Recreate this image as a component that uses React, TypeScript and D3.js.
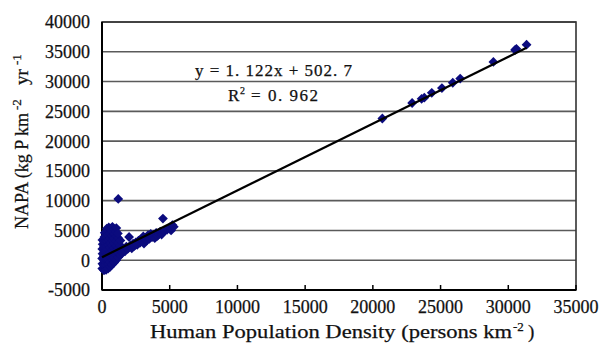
import * as d3 from 'd3';

// scatter data: [population density, NAPA]
const clusterPoints: [number, number][] = [
  [20, -1400], [30, -600], [10, 300], [40, 1100], [20, 1900], [50, 2700], [30, 3400],
  [150, -1700], [140, -900], [160, -100], [130, 700], [170, 1500], [150, 2300], [140, 3100], [180, 3900], [200, 4600],
  [300, -1600], [290, -800], [320, 0], [310, 800], [280, 1600], [300, 2400], [330, 3200], [290, 4000], [310, 4800], [350, 5300],
  [450, -1400], [470, -600], [430, 200], [460, 1000], [440, 1800], [480, 2600], [450, 3400], [420, 4200], [470, 5000], [500, 5500],
  [600, -1100], [580, -300], [620, 500], [610, 1300], [590, 2100], [630, 2900], [600, 3700], [570, 4500], [620, 5300],
  [750, -700], [770, 100], [730, 900], [760, 1700], [740, 2500], [780, 3300], [750, 4100], [720, 4900], [770, 5600],
  [900, -400], [880, 400], [920, 1200], [890, 2000], [910, 2800], [870, 3600], [930, 4400], [900, 5200],
  [1050, 0], [1070, 800], [1030, 1600], [1060, 2400], [1040, 3200], [1080, 4000], [1020, 4800], [1060, 5400],
  [1200, 500], [1180, 1300], [1220, 2100], [1190, 2900], [1210, 3700], [1170, 4500],
  [1350, 900], [1370, 1700], [1330, 2500], [1360, 3300],
  [1500, 1200], [1600, 2000], [1700, 1500], [1800, 2300], [1900, 1900], [2000, 3900], [2100, 2500],
  [2200, 2000], [2300, 2800], [2400, 2400], [2500, 3000], [2600, 2600], [2700, 3300], [2800, 2900],
  [2900, 3600], [3000, 3200], [3050, 4000], [3100, 2800], [3200, 3800], [3300, 3300], [3400, 4200],
  [3500, 3600], [3600, 4400], [3700, 3900], [3800, 4300], [3900, 3700], [4000, 4600], [4100, 4100],
  [4200, 4400], [4300, 4800], [4400, 4300], [4600, 4900], [4800, 5100], [5000, 5500], [5100, 5000],
  [5200, 5900], [5300, 5600],
  [4500, 7000], [1200, 10300],
];

const upperPoints: [number, number][] = [
  [20700, 23800], [22900, 26400], [23600, 27100], [23800, 27300], [24350, 28100],
  [25100, 28900], [25900, 29800], [26450, 30500], [28900, 33300], [30500, 35300],
  [30600, 35500], [31350, 36200],
];

const slope = 1.122;
const intercept = 502.7;
const fitRange = [0, 31350];

const xTicks = [0, 5000, 10000, 15000, 20000, 25000, 30000, 35000];
const yTicks = [-5000, 0, 5000, 10000, 15000, 20000, 25000, 30000, 35000, 40000];

const font = '"Liberation Serif", "DejaVu Serif", serif';

export default function App() {
  const width = 602;
  const height = 348;
  const margin = { top: 22, right: 26, bottom: 58, left: 102 };

  const x = d3.scaleLinear().domain([0, 35000]).range([margin.left, width - margin.right]);
  const y = d3.scaleLinear().domain([-5000, 40000]).range([height - margin.bottom, margin.top]);

  const diamond = d3.symbol().type(d3.symbolSquare).size(48)() as string;
  const points = [...clusterPoints, ...upperPoints];

  const line = d3
    .line<number>()
    .x((d) => x(d))
    .y((d) => y(slope * d + intercept));

  const ink = { fill: '#111', stroke: '#111', strokeWidth: 0.25 };

  return (
    <svg
      width={width}
      height={height}
      style={{ position: 'fixed', left: 0, top: 0, background: '#fff' }}
      fontFamily={font}
    >
      {yTicks.map((t) => (
        <line key={t} x1={x(0)} x2={x(35000)} y1={y(t)} y2={y(t)} stroke="#5a5a5a" strokeWidth={1.6} />
      ))}
      <rect
        x={x(0)}
        y={y(40000)}
        width={x(35000) - x(0)}
        height={y(-5000) - y(40000)}
        fill="none"
        stroke="#333"
        strokeWidth={1.6}
      />
      <line x1={x(0)} x2={x(0)} y1={y(40000)} y2={y(-5000)} stroke="#000" strokeWidth={2} />
      <line x1={x(0)} x2={x(35000)} y1={y(-5000)} y2={y(-5000)} stroke="#000" strokeWidth={2} />
      {xTicks.map((t) => (
        <line key={t} x1={x(t)} x2={x(t)} y1={y(-5000)} y2={y(-5000) - 5} stroke="#000" strokeWidth={1.5} />
      ))}
      {points.map((p, i) => (
        <path
          key={i}
          d={diamond}
          transform={`translate(${x(p[0])},${y(p[1])}) rotate(45)`}
          fill="#0b0b7e"
        />
      ))}
      <path d={line(fitRange) as string} stroke="#000" strokeWidth={2.2} fill="none" />
      {yTicks.map((t) => (
        <text key={t} x={90} y={y(t)} dy="0.36em" textAnchor="end" fontSize={18} {...ink}>
          {t}
        </text>
      ))}
      {xTicks.map((t) => (
        <text key={t} x={x(t)} y={313} textAnchor="middle" fontSize={18} {...ink}>
          {t}
        </text>
      ))}
      <text x={195} y={76} fontSize={17} textLength={157} lengthAdjust="spacing" {...ink}>
        y = 1. 122x + 502. 7
      </text>
      <text x={228} y={101} fontSize={17} {...ink}>
        R
      </text>
      <text x={240} y={94} fontSize={10} {...ink}>
        2
      </text>
      <text x={251} y={101} fontSize={17} textLength={67} lengthAdjust="spacing" {...ink}>
        = 0. 962
      </text>
      <text x={150} y={338} fontSize={19} textLength={362} lengthAdjust="spacingAndGlyphs" {...ink}>
        Human Population Density (persons km
      </text>
      <text x={513} y={331} fontSize={13} {...ink}>
        -2
      </text>
      <text x={528} y={338} fontSize={19} {...ink}>
        )
      </text>
      <g transform="translate(28,229) rotate(-90)">
        <text x={0} y={0} fontSize={19} textLength={116} lengthAdjust="spacingAndGlyphs" {...ink}>
          NAPA (kg P km
        </text>
        <text x={119} y={-7} fontSize={13} {...ink}>
          -2
        </text>
        <text x={144} y={0} fontSize={19} {...ink}>
          yr
        </text>
        <text x={164} y={-7} fontSize={13} {...ink}>
          -1
        </text>
      </g>
    </svg>
  );
}
